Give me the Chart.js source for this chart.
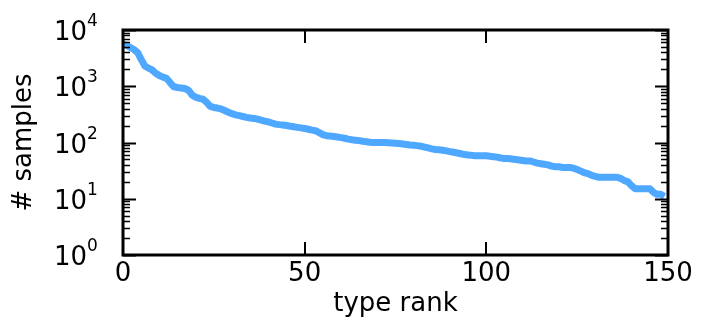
<!DOCTYPE html>
<html><head><meta charset="utf-8">
<script src="https://cdn.jsdelivr.net/npm/chart.js@4"></script>
<style>html,body{margin:0;padding:0;background:#fff}</style>
</head><body>
<canvas id="c" width="701" height="320"></canvas>
<script>
const samples = [5600,5300,4900,4500,4000,3000,2300,2100,1950,1700,
1550,1450,1380,1150,980,950,930,910,850,700,
640,610,590,520,440,420,410,395,370,345,
325,310,300,290,280,272,268,260,250,240,
232,222,212,208,205,200,195,190,186,182,
178,172,166,162,150,138,132,130,128,125,
122,119,115,112,110,108,105,103,101,100,
100,100,100,99,98,97,96,94,92,90,
89,88,86,83,80,77,75,74,73,71,
69,67,65,63,61,60,59,58,58,58,
58,57,56,55,53,52,52,51,50,49,
48,47,47,45,43,42,41,40,38,37,
37,36,36,36,35,33,31,29,28,26,
25,24,24,24,24,24,24,23,21,20,
17,15,15,15,15,15,13,12,12,11];
const ranks = samples.map((v, i) => i);
const xTicks = [0, 50, 100, 150];
const yDecades = [1, 10, 100, 1000, 10000];
const yExponents = ['0', '1', '2', '3', '4'];

const FONT = "'DejaVu Sans', sans-serif";

const frameTicks = {
  id: 'frameTicks',
  afterDatasetsDraw(chart) {
    const {ctx, chartArea: a, scales} = chart;
    const xs = scales.x, ys = scales.y;
    ctx.save();
    ctx.strokeStyle = '#000';
    ctx.lineWidth = 2;
    xTicks.forEach(t => {
      const px = Math.round(xs.getPixelForValue(t));
      ctx.beginPath();
      ctx.moveTo(px, a.bottom); ctx.lineTo(px, a.bottom - 13);
      ctx.moveTo(px, a.top); ctx.lineTo(px, a.top + 13);
      ctx.stroke();
    });
    yDecades.forEach((d, i) => {
      const py = Math.round(ys.getPixelForValue(d)) + 0.5;
      ctx.lineWidth = 2;
      ctx.beginPath();
      ctx.moveTo(a.left, py); ctx.lineTo(a.left + 13, py);
      ctx.moveTo(a.right, py); ctx.lineTo(a.right - 13, py);
      ctx.stroke();
      if (i < yDecades.length - 1) {
        ctx.lineWidth = 1.5;
        for (let m = 2; m <= 9; m++) {
          const my = Math.round(ys.getPixelForValue(d * m)) + 0.5;
          ctx.beginPath();
          ctx.moveTo(a.left, my); ctx.lineTo(a.left + 7, my);
          ctx.moveTo(a.right, my); ctx.lineTo(a.right - 7, my);
          ctx.stroke();
        }
      }
    });
    ctx.lineWidth = 3;
    ctx.strokeRect(a.left, a.top, a.right - a.left, a.bottom - a.top);
    ctx.fillStyle = '#000';
    ctx.textBaseline = 'alphabetic';
    yDecades.forEach((d, i) => {
      const py = ys.getPixelForValue(d);
      ctx.font = "26px " + FONT;
      ctx.textAlign = 'right';
      ctx.fillText('10', 87, py + 10);
      ctx.font = "17px " + FONT;
      ctx.textAlign = 'left';
      ctx.fillText(yExponents[i], 87, py - 4);
    });
    ctx.restore();
  }
};

new Chart(document.getElementById('c'), {
  type: 'line',
  data: {
    datasets: [{
      data: ranks.map((r, i) => ({x: r, y: samples[i]})),
      borderColor: '#4fa8ff',
      borderWidth: 7,
      pointRadius: 0,
      tension: 0,
      borderJoinStyle: 'round',
      fill: false
    }]
  },
  options: {
    responsive: false,
    animation: false,
    devicePixelRatio: 1,
    layout: {padding: {top: 30, right: 33, left: 0, bottom: 0}},
    plugins: {legend: {display: false}, tooltip: {enabled: false}},
    scales: {
      x: {
        type: 'linear', min: 0, max: 150,
        afterBuildTicks: s => { s.ticks = xTicks.map(v => ({value: v})); },
        ticks: {color: '#000', font: {family: FONT, size: 26}, padding: 4, maxRotation: 0, autoSkip: false},
        grid: {display: false, drawTicks: false},
        border: {display: false},
        title: {display: true, text: 'type rank', color: '#000', font: {family: FONT, size: 26}, padding: {top: 0, bottom: 0}},
        afterFit: s => { s.height = 65; }
      },
      y: {
        type: 'logarithmic', min: 1, max: 10000,
        afterBuildTicks: s => { s.ticks = yDecades.map(v => ({value: v})); },
        ticks: {display: false},
        grid: {display: false, drawTicks: false},
        border: {display: false},
        title: {display: true, text: '# samples', color: '#000', font: {family: FONT, size: 26}, padding: {top: 9, bottom: 0}},
        afterFit: s => { s.width = 123; }
      }
    }
  },
  plugins: [frameTicks]
});
</script>
</body></html>
